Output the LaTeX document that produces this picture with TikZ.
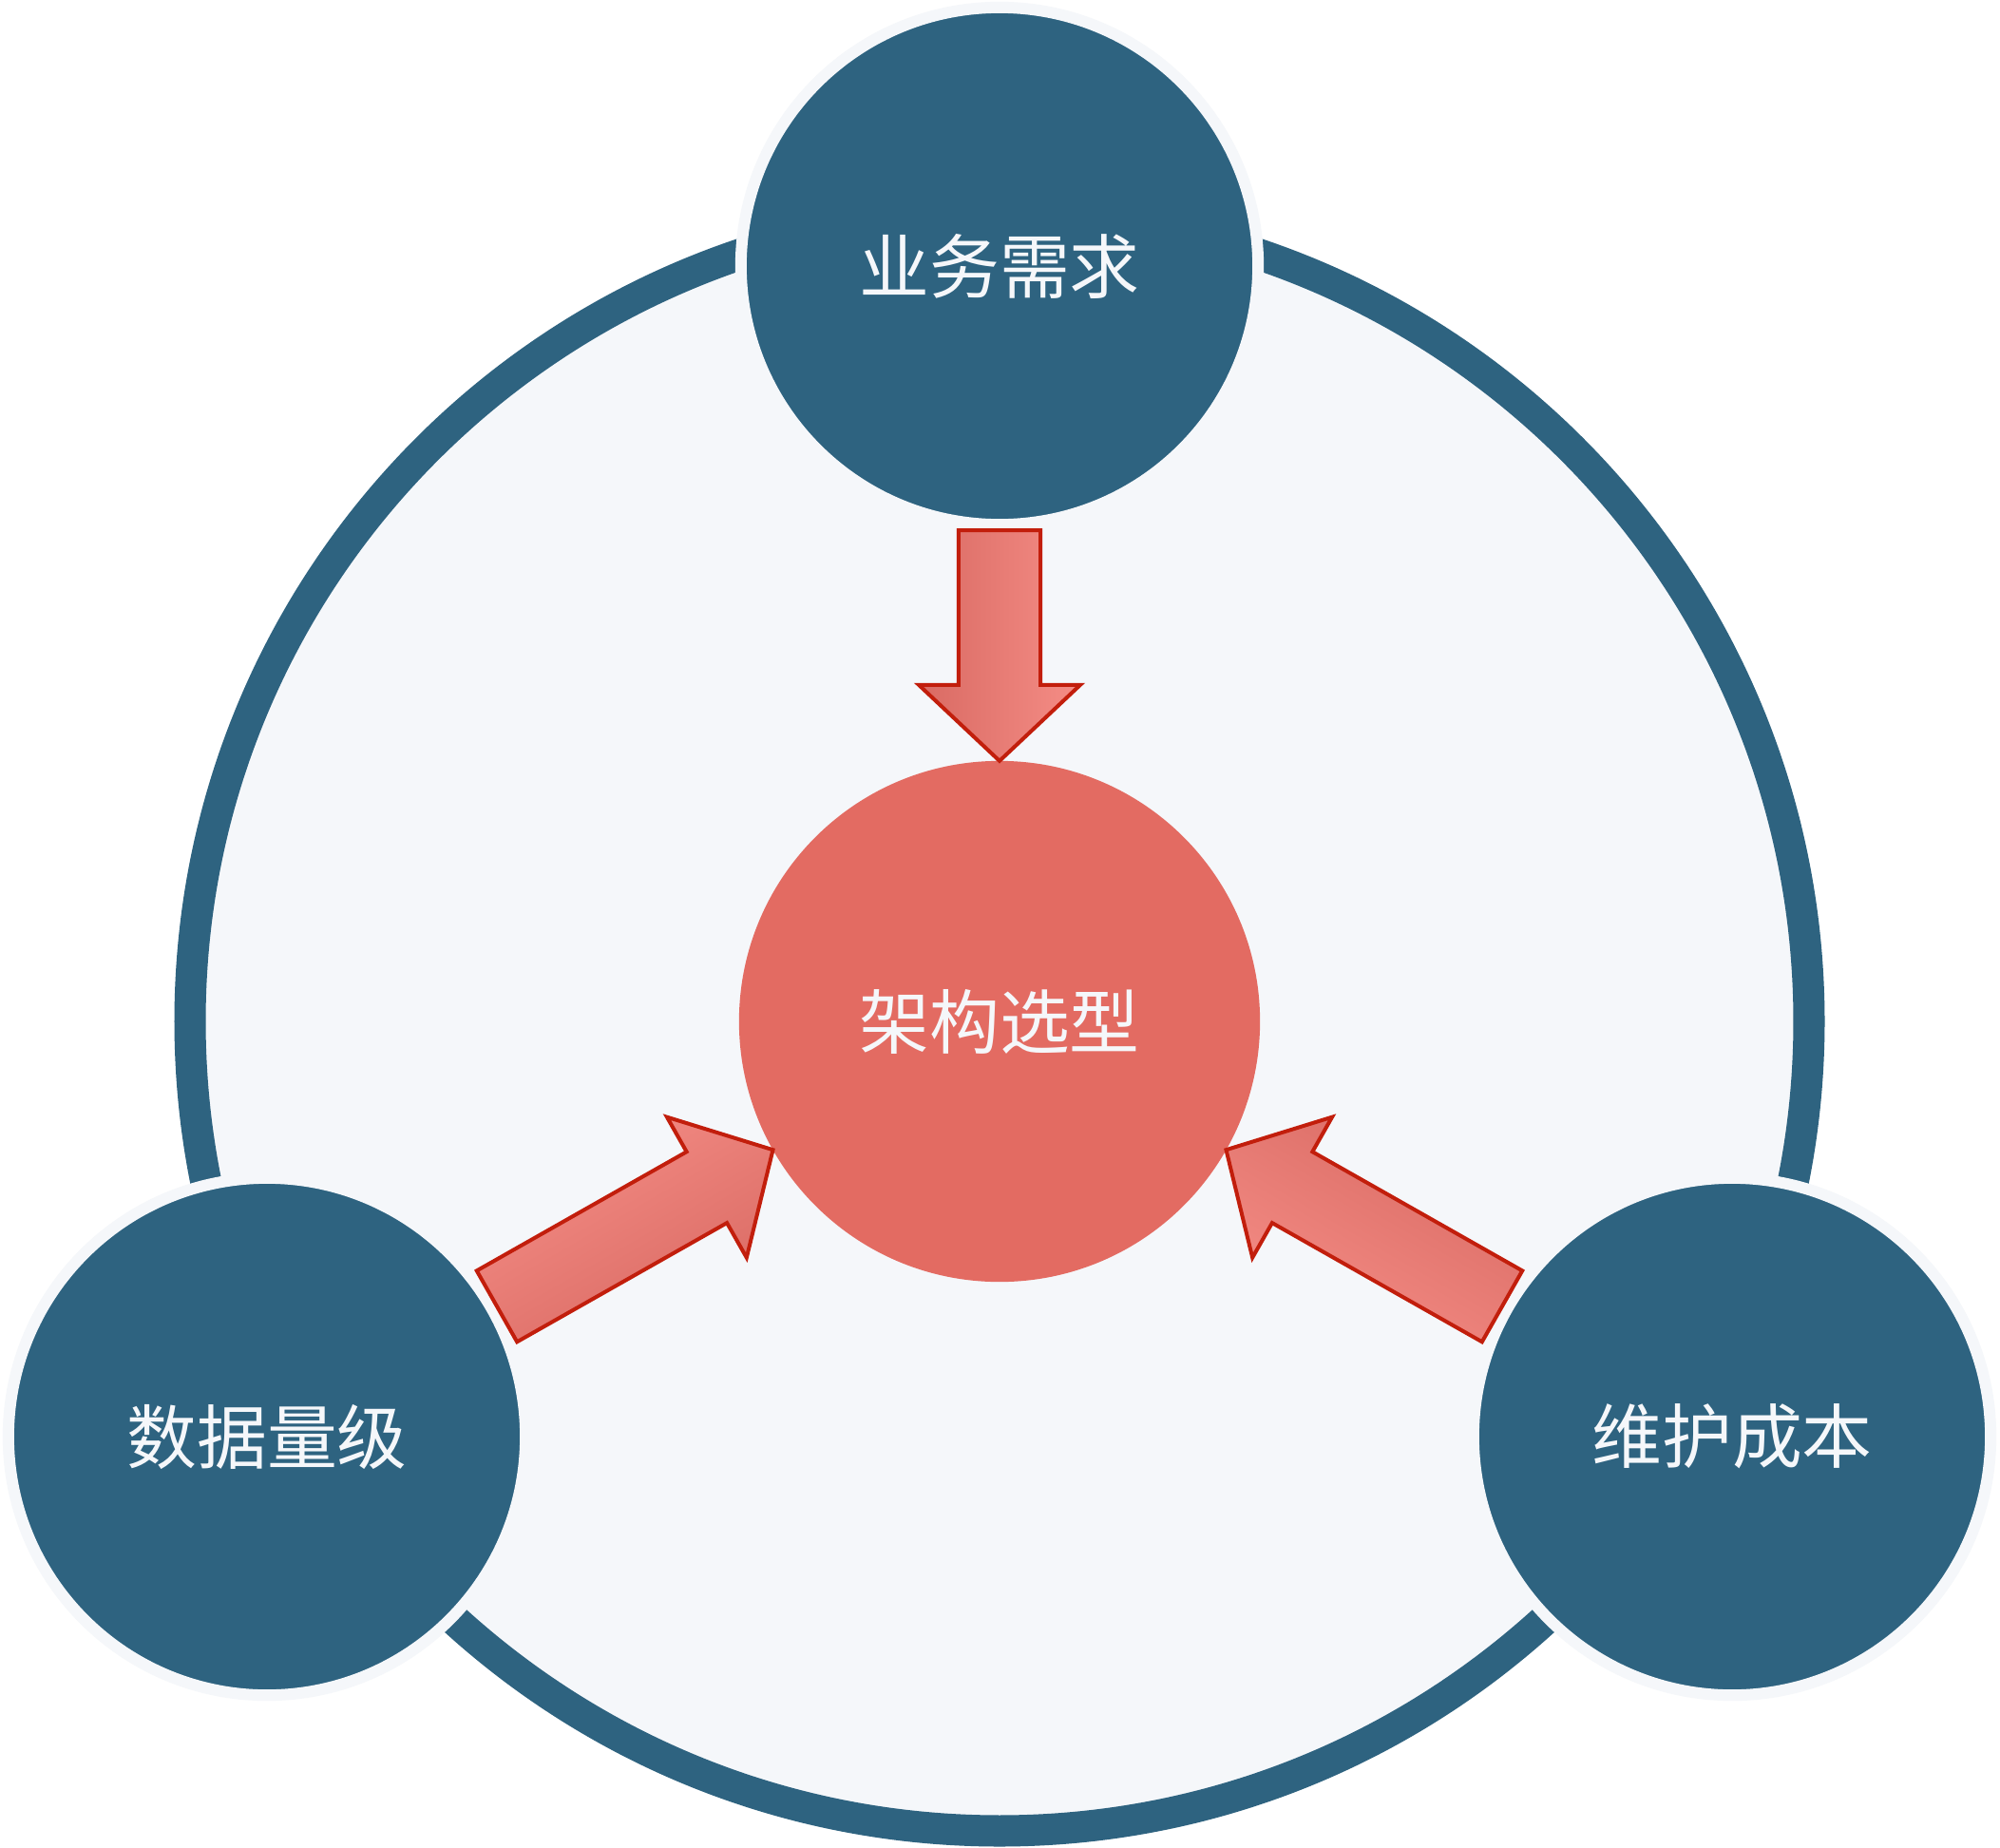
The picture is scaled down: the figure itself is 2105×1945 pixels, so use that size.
\documentclass[tikz,border=0pt]{standalone}
\usepackage{fontspec}
\newfontfamily\cjk{Noto Sans CJK SC}
\usetikzlibrary{positioning, calc, shapes}

\definecolor{ringblue}{HTML}{2E6380}
\definecolor{paper}{HTML}{F5F7FA}
\definecolor{corered}{HTML}{E36B62}
\definecolor{arrowline}{HTML}{C21E0C}
\definecolor{arrowdark}{HTML}{D96A63}
\definecolor{arrowlight}{HTML}{F58D86}

\tikzset{
  factor/.style={circle, fill=ringblue, draw=paper, line width=0.12cm,
    minimum size=5.44cm, inner sep=0pt, text=paper,
    font=\cjk\fontsize{21}{25}\selectfont},
  core/.style={circle, fill=corered, minimum size=5.48cm, inner sep=0pt,
    text=paper, font=\cjk\fontsize{21}{25}\selectfont},
  fatarrow/.style={draw=arrowline, line width=0.04cm,
    left color=arrowdark, right color=arrowlight},
}

% 粗箭头: #1 起点节点, #2 终点节点, #3 渐变角度
\newcommand{\fatarrow}[3]{%
  \coordinate (s) at ($(#1)!2.78cm!(#2)$);
  \coordinate (e) at ($(#2)!2.74cm!(#1)$);
  \coordinate (h) at ($(e)!0.8cm!(s)$);
  \draw[fatarrow, shading angle=#3]
    ($(s)!0.43cm!90:(e)$) -- ($(h)!0.43cm!90:(e)$) -- ($(h)!0.85cm!90:(e)$)
    -- (e) -- ($(h)!0.85cm!-90:(e)$) -- ($(h)!0.43cm!-90:(e)$)
    -- ($(s)!0.43cm!-90:(e)$) -- cycle;
}

\begin{document}
\begin{tikzpicture}[x=0.01cm, y=-0.01cm]
  % 画布大小
  \fill[white] (0,0) rectangle (2105,1945);
  \useasboundingbox (0,0) rectangle (2105,1945);
  % 大圆环
  \coordinate (mid) at (1052,1075);
  \draw[ringblue, line width=0.33cm, fill=paper] (mid) circle (8.515cm);
  % 中心和三个因素
  \node[core] (core) at (mid) {架构选型};
  \node[factor] (biz) at (1052,280) {业务需求};
  \node[factor] (data) at (281,1512) {数据量级};
  \node[factor] (cost) at (1823,1512) {维护成本};
  % 指向中心的箭头
  \fatarrow{biz}{core}{90}
  \fatarrow{data}{core}{210}
  \fatarrow{cost}{core}{330}
\end{tikzpicture}
\end{document}
